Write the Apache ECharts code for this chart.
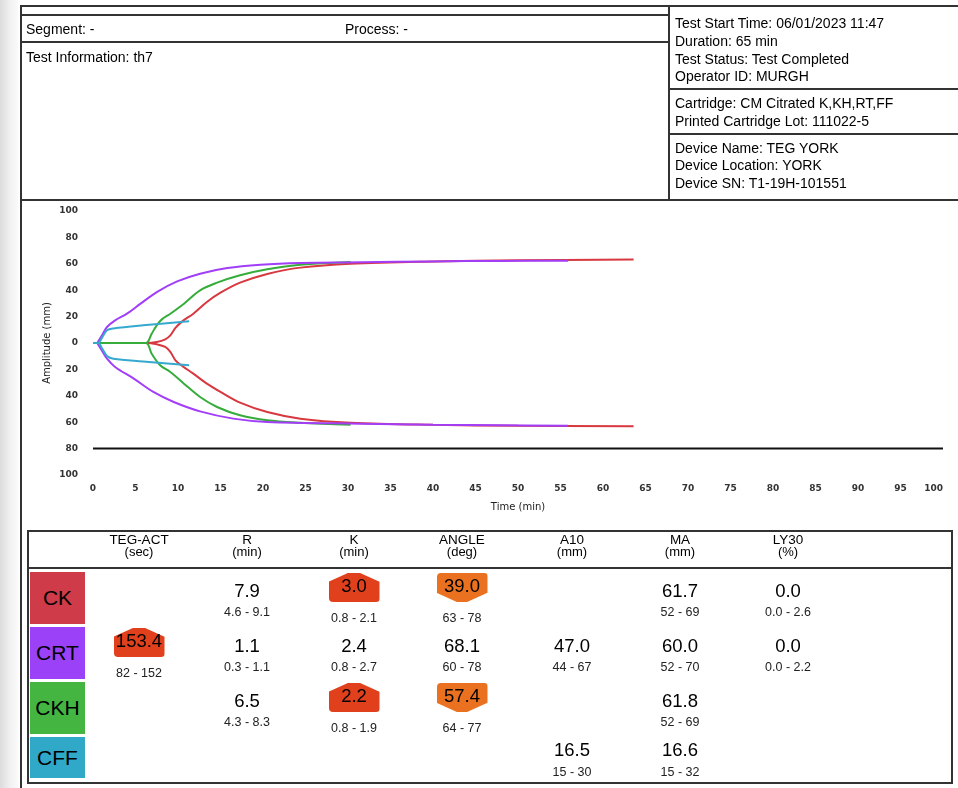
<!DOCTYPE html>
<html>
<head>
<meta charset="utf-8">
<script src="https://cdn.jsdelivr.net/npm/echarts@6/dist/echarts.min.js"></script>
<style>
  html, body { margin:0; padding:0; width:958px; height:788px; overflow:hidden; background:#fff; }
  body { position:relative; font-family:"Liberation Sans", Arial, sans-serif; color:#000; }
  #chart { position:absolute; left:0; top:0; width:958px; height:788px; z-index:1; }
  #overlay { position:absolute; left:0; top:0; width:958px; height:788px; z-index:2; pointer-events:none; }
  .abs { position:absolute; white-space:nowrap; }
  .hl { position:absolute; height:2px; background:#333; }
  .vl { position:absolute; width:2px; background:#333; }
</style>
</head>
<body>
<div id="chart"></div>
<div id="overlay"></div>
<script>
// ---------------- DATA ----------------
const headerSegment = 'Segment: -';
const headerProcess = 'Process: -';
const headerInfo = 'Test Information: th7';
const infoTest = ['Test Start Time: 06/01/2023 11:47', 'Duration: 65 min', 'Test Status: Test Completed', 'Operator ID: MURGH'];
const infoCartridge = ['Cartridge: CM Citrated K,KH,RT,FF', 'Printed Cartridge Lot: 111022-5'];
const infoDevice = ['Device Name: TEG YORK', 'Device Location: YORK', 'Device SN: T1-19H-101551'];

const xTickValues = [0,5,10,15,20,25,30,35,40,45,50,55,60,65,70,75,80,85,90,95,100];
const yTickValues = [-100,-80,-60,-40,-20,0,20,40,60,80,100];
const xAxisTitle = 'Time (min)';
const yAxisTitle = 'Amplitude (mm)';

// CK (red)
const ckTime       = [0.5, 6.3, 7.5, 8.5, 9.1, 9.7, 10.5, 11.8, 13.4, 15.0, 17.3, 20.5, 24.4, 30.3, 40, 50, 63.6];
const ckUpper      = [0, 0, 0.8, 2.8, 5.8, 11.4, 16.4, 22.2, 31.1, 38.1, 45.7, 52.3, 57.1, 60.1, 61.8, 62.6, 63.2];
const ckLower      = [0, 0, -1.0, -3.0, -6.8, -13.1, -17.4, -23.2, -30.8, -37.1, -45.2, -52.3, -57.3, -60.4, -62.0, -62.7, -63.1];
// CRT (purple)
const crtTime      = [0.5, 1.06, 1.65, 2.6, 4.0, 5.6, 7.5, 9.9, 12.6, 15.8, 19.7, 24.4, 31.5, 40, 48, 55.9];
const crtUpper     = [0, 5.8, 12.1, 17.2, 22.2, 29.8, 38.6, 46.7, 52.5, 56.8, 59.3, 60.6, 61.1, 61.8, 62.2, 62.4];
const crtLowerTime = [0.5, 1.06, 1.65, 2.6, 4.8, 7.1, 9.5, 12.6, 16.5, 20.5, 31.5, 40, 48, 55.9];
const crtLower     = [0, -5.8, -11.9, -18.2, -27.0, -37.1, -44.7, -51.8, -57.3, -59.8, -61.1, -61.9, -62.3, -62.6];
// CKH (green)
const ckhTime      = [0.5, 6.2, 6.9, 7.5, 8.1, 9.1, 10.7, 12.6, 14.6, 17.3, 20.5, 24.4, 30.3];
const ckhUpper     = [0, 0, 7.0, 13.4, 17.9, 22.2, 29.8, 39.9, 45.7, 51.3, 55.8, 59.3, 61.4];
const ckhLowerTime = [0.5, 6.2, 6.9, 7.9, 9.1, 10.7, 12.6, 14.6, 17.3, 20.5, 24.4, 30.3];
const ckhLower     = [0, 0, -8.1, -16.9, -22.0, -30.8, -40.9, -48.5, -54.8, -58.6, -60.4, -61.9];
// CFF (cyan)
const cffTime      = [0, 0.6, 1.1, 1.65, 2.4, 5.9, 11.3];
const cffUpper     = [0, 0, 4.5, 9.6, 11.0, 13.4, 16.4];
const cffLower     = [0, 0, -4.5, -9.8, -11.9, -14.0, -16.9];

// reference line
const refTime = [0, 100];
const refAmplitude = [-80, -80];

// results table
const tableColumns = ['TEG-ACT', 'R', 'K', 'ANGLE', 'A10', 'MA', 'LY30'];
const tableUnits   = ['(sec)', '(min)', '(min)', '(deg)', '(mm)', '(mm)', '(%)'];
const rowNames     = ['CK', 'CRT', 'CKH', 'CFF'];
const rowValues = [
  [null,    '7.9', '3.0', '39.0', null,   '61.7', '0.0'],
  ['153.4', '1.1', '2.4', '68.1', '47.0', '60.0', '0.0'],
  [null,    '6.5', '2.2', '57.4', null,   '61.8', null],
  [null,    null,  null,  null,   '16.5', '16.6', null]
];
const rowRanges = [
  [null,       '4.6 - 9.1', '0.8 - 2.1', '63 - 78', null,      '52 - 69', '0.0 - 2.6'],
  ['82 - 152', '0.3 - 1.1', '0.8 - 2.7', '60 - 78', '44 - 67', '52 - 70', '0.0 - 2.2'],
  [null,       '4.3 - 8.3', '0.8 - 1.9', '64 - 77', null,      '52 - 69', null],
  [null,       null,        null,        null,      '15 - 30', '15 - 32', null]
];
// 'H' = above range, 'L' = below range
const rowFlags = [
  [null, null, 'H', 'L', null, null, null],
  ['H',  null, null, null, null, null, null],
  [null, null, 'H', 'L', null, null, null],
  [null, null, null, null, null, null, null]
];

// ---------------- STYLE / LAYOUT ----------------
const curveColors = { CK:'#d8383f', CRT:'#a23ef8', CKH:'#36ad3a', CFF:'#36a9cf' };
const rowBoxColors = ['#cf3b48', '#9b41f8', '#43b540', '#30a8c8'];
const ov = document.getElementById('overlay');
function el(cls, style, text) {
  const d = document.createElement('div');
  d.className = cls;
  Object.assign(d.style, style);
  if (text != null) d.textContent = text;
  ov.appendChild(d);
  return d;
}
function txt(text, x, cy, size, opts) {
  opts = opts || {};
  const lh = Math.round(size * 1.3);
  const st = { left: x + 'px', top: (cy - lh / 2) + 'px', fontSize: size + 'px', lineHeight: lh + 'px' };
  if (opts.center) st.transform = 'translateX(-50%)';
  if (opts.color) st.color = opts.color;
  return el('abs', st, text);
}

// left gray strip
el('abs', { left:'0px', top:'0px', width:'18px', height:'788px', background:'linear-gradient(to right,#dcdcdc,#f2f2f2 60%,#fafafa)' });
// outer frame
el('vl', { left:'20px', top:'5px', height:'783px' });
el('hl', { left:'20px', top:'5px', width:'938px' });
el('hl', { left:'20px', top:'14px', width:'650px', height:'1.5px' });
el('hl', { left:'20px', top:'41px', width:'650px' });
el('vl', { left:'668px', top:'5px', height:'196px' });
el('hl', { left:'668px', top:'88px', width:'290px' });
el('hl', { left:'668px', top:'133px', width:'290px' });
el('hl', { left:'20px', top:'199px', width:'938px' });

const hdrSize = 14;
txt(headerSegment, 26, 29, hdrSize);
txt(headerProcess, 345, 29, hdrSize);
txt(headerInfo, 26, 57, hdrSize);
infoTest.forEach((s, i) => txt(s, 675, 23.3 + i * 17.7, hdrSize));
infoCartridge.forEach((s, i) => txt(s, 675, 103.3 + i * 17.7, hdrSize));
infoDevice.forEach((s, i) => txt(s, 675, 147.7 + i * 17.7, hdrSize));

// table frame
el('abs', { left:'27px', top:'530px', width:'922px', height:'250px', border:'2px solid #333' });
el('hl', { left:'27px', top:'567px', width:'926px' });
const colX = [139, 247, 354, 462, 572, 680, 788];
tableColumns.forEach((c, i) => {
  txt(c, colX[i], 540, 13.5, { center:true });
  txt(tableUnits[i], colX[i], 551.5, 13, { center:true });
});
const rowTops = [572, 627, 682, 737];
const rowH = [52, 52, 52, 41];
const valOff = [19, 19, 19, 13];
const rangeOff = [39.5, 40, 39.7, 34.7];
rowNames.forEach((n, r) => {
  el('abs', { left:'30px', top: rowTops[r] + 'px', width:'55px', height: rowH[r] + 'px', background: rowBoxColors[r],
    fontSize:'21px', lineHeight: rowH[r] + 'px', textAlign:'center' }, n);
  rowValues[r].forEach((v, c) => {
    if (v == null) return;
    const top = rowTops[r];
    const flag = rowFlags[r][c];
    if (flag) {
      const clip = flag === 'H'
        ? 'polygon(0 30%, 38% 0, 62% 0, 100% 30%, 100% 100%, 0 100%)'
        : 'polygon(0 0, 100% 0, 100% 68%, 60% 100%, 40% 100%, 0 68%)';
      el('abs', { left: (colX[c] - 25.5) + 'px', top: (top + 1) + 'px', width:'51px', height:'29px',
        background: flag === 'H' ? '#e0411c' : '#ea711f', clipPath: clip, borderRadius:'4px' });
      txt(v, colX[c], top + 14, 18.5, { center:true });
      if (rowRanges[r][c]) txt(rowRanges[r][c], colX[c], top + 46, 12.5, { center:true, color:'#222' });
    } else {
      txt(v, colX[c], top + valOff[r], 18.5, { center:true });
      if (rowRanges[r][c]) txt(rowRanges[r][c], colX[c], top + rangeOff[r], 12.5, { center:true, color:'#222' });
    }
  });
});

// ---------------- CHART ----------------
function pairs(t, a) { return t.map((x, i) => [x, a[i]]); }
const lineSeries = [];
function addCurve(name, t1, up, t2, low) {
  [[t1, up], [t2, low]].forEach(([t, a]) => {
    lineSeries.push({
      type:'line', name, data: pairs(t, a), showSymbol:false, smooth:0.35,
      lineStyle:{ color: curveColors[name], width:2 }, itemStyle:{ color: curveColors[name] },
      silent:true, animation:false
    });
  });
}
addCurve('CK', ckTime, ckUpper, ckTime, ckLower);
addCurve('CKH', ckhTime, ckhUpper, ckhLowerTime, ckhLower);
addCurve('CRT', crtTime, crtUpper, crtLowerTime, crtLower);
addCurve('CFF', cffTime, cffUpper, cffTime, cffLower);
lineSeries.push({
  type:'line', name:'ref', data: pairs(refTime, refAmplitude), showSymbol:false,
  lineStyle:{ color:'#111', width:2 }, silent:true, animation:false
});

const chart = echarts.init(document.getElementById('chart'), null, { renderer:'canvas' });
const axisFont = { fontFamily:'DejaVu Sans', fontSize:9, color:'#333', fontWeight:'bold' };
chart.setOption({
  animation:false,
  backgroundColor:'transparent',
  grid:{ left:93, top:211, width:850, height:264, containLabel:false },
  xAxis:{
    type:'value',
    min: xTickValues[0], max: xTickValues[xTickValues.length - 1],
    interval: xTickValues[1] - xTickValues[0],
    name: xAxisTitle, nameLocation:'middle', nameGap:27,
    nameTextStyle:{ fontFamily:'DejaVu Sans', fontSize:10, color:'#222' },
    axisLine:{ show:false }, axisTick:{ show:false }, splitLine:{ show:false },
    axisLabel: Object.assign({ margin:9, alignMaxLabel:'right' }, axisFont)
  },
  yAxis:{
    type:'value',
    min: yTickValues[0], max: yTickValues[yTickValues.length - 1],
    interval: yTickValues[1] - yTickValues[0],
    name: yAxisTitle, nameLocation:'middle', nameGap:41, nameRotate:90, nameMoveOverlap:false,
    nameTextStyle:{ fontFamily:'DejaVu Sans', fontSize:10, color:'#222' },
    axisLine:{ show:false }, axisTick:{ show:false }, splitLine:{ show:false },
    axisLabel: Object.assign({ margin:15, formatter: v => String(Math.abs(v)) }, axisFont)
  },
  series: lineSeries
});
</script>
</body>
</html>
